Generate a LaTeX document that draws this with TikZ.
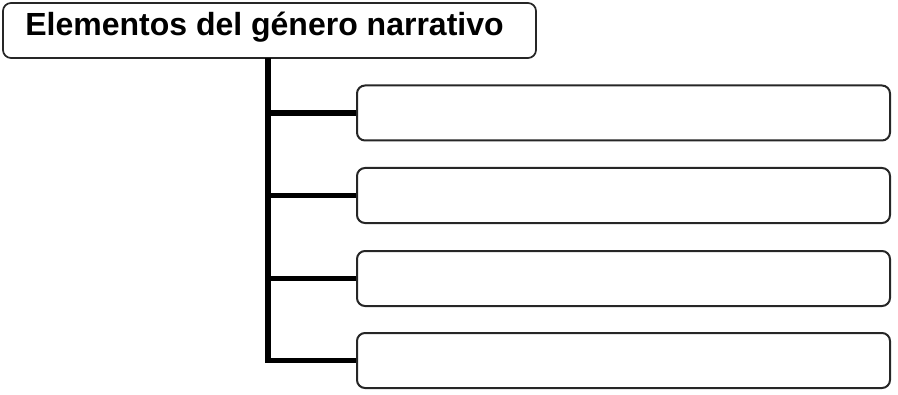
\documentclass[tikz,border=0pt]{standalone}
\usepackage{fontspec}
\setmainfont{Liberation Sans}
\begin{document}
\begin{tikzpicture}[x=0.75pt,y=-0.75pt,
  titlebox/.style={draw=black!85,line width=1.3pt,rounded corners=6pt,minimum width=533*0.75pt,minimum height=55*0.75pt,inner sep=0pt},
  titletext/.style={inner sep=0pt,font=\fontsize{24}{28}\selectfont\bfseries},
  itembox/.style={draw=black!85,line width=1.5pt,rounded corners=6pt,minimum width=533*0.75pt,minimum height=55*0.75pt,inner sep=0pt},
  trunk/.style={line width=3.8pt,black}]
\useasboundingbox (0,0) rectangle (898,395);
\node[titlebox] (title) at (269.5,30.5) {};
\node[titletext,anchor=base] (titletext) at (264.5,36) {Elementos del género narrativo};
\node[itembox] (b1) at (623.5,113) {};
\node[itembox] (b2) at (623.5,195.5) {};
\node[itembox] (b3) at (623.5,278.5) {};
\node[itembox] (b4) at (623.5,360.5) {};
\coordinate (top) at (268,58);
\coordinate (bot) at (268,360.5);
\draw[trunk] (top) -- (bot);
\foreach \i in {1,2,3}{
  \draw[trunk] (bot |- b\i.west) -- (b\i.west);
}
\draw[trunk,line cap=butt] ([xshift=-1.9pt]bot) -- (b4.west);
\end{tikzpicture}
\end{document}
